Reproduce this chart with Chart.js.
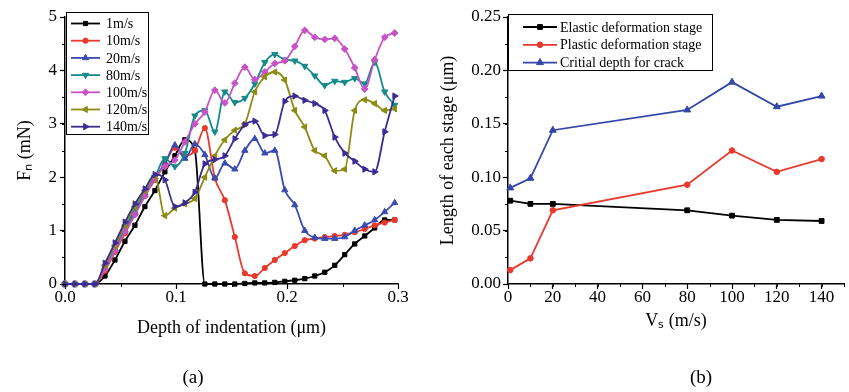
<!DOCTYPE html>
<html><head><meta charset="utf-8">
<script src="https://cdn.jsdelivr.net/npm/chart.js@4/dist/chart.umd.min.js"></script>
<style>
html,body{margin:0;padding:0;background:#fff;}
#wrap{position:relative;width:849px;height:392px;overflow:hidden;background:#fff;}
#cA{position:absolute;left:0;top:0;}
#cB{position:absolute;left:424px;top:0;}
.cap{position:absolute;font-family:'Liberation Serif','Times New Roman',serif;font-size:19px;color:#000;transform:translate(-50%,-50%);white-space:nowrap;}
</style></head><body>
<div id="wrap">
<canvas id="cA" width="424" height="392"></canvas>
<canvas id="cB" width="425" height="392"></canvas>
<div class="cap" style="left:193px;top:377px">(a)</div>
<div class="cap" style="left:701px;top:377px">(b)</div>
</div>
<script>
// ---------- DATA (panel a) ----------
const depth = [0, 0.009, 0.018, 0.027, 0.036, 0.045, 0.054, 0.063, 0.072, 0.081, 0.09, 0.099, 0.108, 0.117, 0.126, 0.135, 0.144, 0.153, 0.162, 0.171, 0.18, 0.189, 0.198, 0.207, 0.216, 0.225, 0.234, 0.243, 0.252, 0.261, 0.27, 0.279, 0.288, 0.297];
const f1   = [0,0,0,0, 0.15,0.45,0.8,1.1,1.45,1.75,2.1,2.4,2.7,2.5, 0,0,0,0,0.01,0.02,0.02,0.03,0.05,0.07,0.1, 0.15,0.22,0.35,0.55,0.75,0.9,1.05,1.2,1.2];
const f10  = [0,0,0,0, 0.25,0.6,0.95,1.3,1.65,1.95,2.25,2.55,2.4,2.5, 2.92,1.98,1.57,0.88,0.2,0.15,0.3,0.45,0.58,0.71,0.82, 0.85,0.88,0.9,0.92,0.97,1.03,1.1,1.15,1.2];
const f20  = [0,0,0,0, 0.3,0.65,1.0,1.35,1.7,2.0,2.25,2.6,2.35,2.62, 2.42,1.98,2.26,2.15,2.5,2.72,2.45,2.5,1.76,1.48,1.0, 0.87,0.85,0.85,0.88,1.0,1.1,1.2,1.35,1.52];
const f80  = [0,0,0,0, 0.32,0.68,1.05,1.4,1.72,2.0,2.35,2.2,2.45,3.15, 3.25,2.85,3.6,3.4,3.48,3.75,4.15,4.3,4.2,4.18,4.08, 3.9,3.72,3.8,3.78,3.85,3.75,4.15,3.6,3.35];
const f100 = [0,0,0,0, 0.28,0.62,0.98,1.3,1.65,1.98,2.2,2.32,2.66,3.0, 3.22,3.63,3.39,3.76,4.06,3.83,3.97,4.13,4.18,4.45,4.75, 4.62,4.58,4.6,4.4,4.05,3.65,4.2,4.62,4.7];
const f120 = [0,0,0,0, 0.35,0.72,1.1,1.45,1.75,2.02,1.28,1.42,1.5,1.6, 2.0,2.4,2.7,2.88,3.0,3.6,3.88,3.97,3.82,3.25,2.94, 2.5,2.4,2.12,2.15,3.25,3.45,3.38,3.25,3.28];
const f140 = [0,0,0,0, 0.39,0.77,1.16,1.5,1.78,2.05,1.95,1.45,1.52,1.72, 2.25,2.33,2.4,2.72,2.98,3.05,2.78,2.8,3.42,3.52,3.44, 3.38,3.25,2.75,2.45,2.3,2.15,2.1,2.85,3.52];
const leftNames = ['1m/s','10m/s','20m/s','80m/s','100m/s','120m/s','140m/s'];
const leftSeries = [f1, f10, f20, f80, f100, f120, f140];
const leftXTicks = [0, 0.1, 0.2, 0.3];

// ---------- DATA (panel b) ----------
const speeds  = [1, 10, 20, 80, 100, 120, 140];
const elastic = [0.078, 0.075, 0.075, 0.069, 0.064, 0.060, 0.059];
const plastic = [0.013, 0.024, 0.069, 0.093, 0.125, 0.105, 0.117];
const crack   = [0.090, 0.099, 0.144, 0.163, 0.189, 0.166, 0.176];
const rightNames = ['Elastic deformation stage','Plastic deformation stage','Critial depth for crack'];

// ---------- STYLES ----------
const FONT = "'Liberation Serif','Times New Roman',serif";
const leftStyles = [
  {c:'#000000', p:'rect',     r:3.0, rot:0},
  {c:'#e8392d', p:'circle',   r:2.6, rot:0},
  {c:'#3a4cb0', p:'triangle', r:3.6, rot:0},
  {c:'#168a8a', p:'triangle', r:3.6, rot:180},
  {c:'#c653c6', p:'rectRot',  r:3.4, rot:0},
  {c:'#8c8c14', p:'triangle', r:3.6, rot:270},
  {c:'#3b2c94', p:'triangle', r:3.6, rot:90}
];
const rightStyles = [
  {c:'#000000', p:'rect',     r:3.4, rot:0},
  {c:'#e8392d', p:'circle',   r:2.8, rot:0},
  {c:'#3446aa', p:'triangle', r:4.0, rot:0}
];

Chart.defaults.font.family = FONT;
Chart.defaults.color = '#000';

function pts(xs, ys){ return xs.map((x,i)=>({x:x, y:ys[i]})); }

function marker(ctx, style, x, y, r, rotDeg){
  let rad = (rotDeg||0)*Math.PI/180;
  ctx.beginPath();
  if (style==='circle'){ ctx.arc(x,y,r,0,Math.PI*2); }
  else if (style==='rect'){ const s=Math.SQRT1_2*r; ctx.rect(x-s,y-s,2*s,2*s); }
  else if (style==='rectRot'){ ctx.moveTo(x,y-r); ctx.lineTo(x+r,y); ctx.lineTo(x,y+r); ctx.lineTo(x-r,y); ctx.closePath(); }
  else if (style==='triangle'){
    for(let k=0;k<3;k++){ const a=rad+k*2*Math.PI/3; const px=x+Math.sin(a)*r, py=y-Math.cos(a)*r; if(k===0)ctx.moveTo(px,py); else ctx.lineTo(px,py);} ctx.closePath();
  }
  ctx.fill(); ctx.stroke();
}

const boxLegend = {
  id:'boxLegend',
  afterDraw(chart, args, o){
    if(!o || !o.rows) return;
    const ctx = chart.ctx; ctx.save();
    ctx.strokeStyle='#000'; ctx.lineWidth=1;
    ctx.strokeRect(o.x+0.5, o.y+0.5, o.w, o.h);
    chart.data.datasets.forEach((ds,i)=>{
      const y = o.y0 + i*o.dy;
      ctx.strokeStyle = ds.borderColor; ctx.fillStyle = ds.borderColor; ctx.lineWidth = ds.borderWidth;
      ctx.beginPath(); ctx.moveTo(o.l1, y); ctx.lineTo(o.l2, y); ctx.stroke();
      ctx.lineWidth = 1;
      marker(ctx, ds.pointStyle, (o.l1+o.l2)/2, y, ds.pointRadius, ds.pointRotation);
      ctx.fillStyle = '#000'; ctx.font = o.fontSize+'px '+FONT; ctx.textAlign='left'; ctx.textBaseline='middle';
      ctx.fillText(ds.label, o.tx, y+1);
    });
    ctx.restore();
  }
};

const minorTicks = {
  id:'minorTicks',
  afterDraw(chart, args, o){
    if(!o || !o.list) return;
    const ctx=chart.ctx; ctx.save(); ctx.strokeStyle='#000'; ctx.lineWidth=1;
    o.list.forEach(cfg=>{
      const sc = chart.scales[cfg.id];
      for(let k=0;;k++){
        const v = cfg.from + k*cfg.step; if (v > cfg.to + 1e-9) break;
        const p = Math.round(sc.getPixelForValue(v))+0.5;
        ctx.beginPath();
        if (sc.isHorizontal()){ ctx.moveTo(p, sc.top); ctx.lineTo(p, sc.top+cfg.len); }
        else { ctx.moveTo(sc.right, p); ctx.lineTo(sc.right-cfg.len, p); }
        ctx.stroke();
      }
    });
    ctx.restore();
  }
};

function axisBase(){
  return {
    grid:{display:true, drawOnChartArea:false, drawTicks:true, tickLength:5, tickColor:'#000', tickWidth:1.2},
    border:{display:true, color:'#000', width:1.5}
  };
}

// ---------- CHART (a) ----------
new Chart(document.getElementById('cA'), {
  type:'line',
  data:{ datasets: leftSeries.map((s,i)=>({
    label:leftNames[i], data:pts(depth, s),
    borderColor:leftStyles[i].c, backgroundColor:leftStyles[i].c,
    pointStyle:leftStyles[i].p, pointRadius:leftStyles[i].r, pointRotation:leftStyles[i].rot,
    pointBackgroundColor:leftStyles[i].c, pointBorderColor:leftStyles[i].c, pointBorderWidth:1,
    borderWidth:1.8, cubicInterpolationMode:'monotone', fill:false, clip:false, order:10-i
  }))},
  options:{
    responsive:false, animation:false, devicePixelRatio:1,
    layout:{padding:{left:0,right:26,top:17,bottom:53}},
    plugins:{legend:{display:false}, tooltip:{enabled:false},
      boxLegend:{rows:true, x:66, y:12, w:82, h:122, y0:23.5, dy:17.2, l1:71, l2:100, tx:106, fontSize:14},
      minorTicks:{list:[{id:'x',from:0,to:0.3,step:0.05,len:3},{id:'y',from:0,to:5,step:0.5,len:3}]}
    },
    scales:{
      x:Object.assign(axisBase(), {type:'linear', min:0, max:0.3,
        afterBuildTicks(s){ s.ticks = leftXTicks.map(v=>({value:v})); },
        afterFit(s){ s.height=55; },
        ticks:{callback:v=>Number(v).toFixed(1), font:{size:17, lineHeight:1}, color:'#000', padding:0, maxRotation:0, autoSkip:false},
        title:{display:true, text:'Depth of indentation (μm)', font:{size:18, lineHeight:1.2}, color:'#000', padding:0}
      }),
      y:Object.assign(axisBase(), {type:'linear', min:0, max:5,
        afterFit(s){ s.width=65; },
        ticks:{stepSize:1, font:{size:17}, color:'#000', padding:3},
        title:{display:true, text:'Fₙ (mN)', font:{size:18, lineHeight:1.2}, color:'#000', padding:{top:14,bottom:0}}
      })
    }
  },
  plugins:[boxLegend, minorTicks]
});

// ---------- CHART (b) ----------
const rightSeries = [elastic, plastic, crack];
new Chart(document.getElementById('cB'), {
  type:'line',
  data:{ datasets: rightSeries.map((s,i)=>({
    label:rightNames[i], data:pts(speeds, s),
    borderColor:rightStyles[i].c, backgroundColor:rightStyles[i].c,
    pointStyle:rightStyles[i].p, pointRadius:rightStyles[i].r, pointRotation:rightStyles[i].rot,
    pointBackgroundColor:rightStyles[i].c, pointBorderColor:rightStyles[i].c, pointBorderWidth:1,
    borderWidth:1.8, tension:0, fill:false, clip:false, order:10-i
  }))},
  options:{
    responsive:false, animation:false, devicePixelRatio:1,
    layout:{padding:{left:0,right:4,top:17,bottom:60}},
    plugins:{legend:{display:false}, tooltip:{enabled:false},
      boxLegend:{rows:true, x:84, y:14, w:204, h:56, y0:27, dy:17.8, l1:99, l2:133, tx:136, fontSize:14},
      minorTicks:{list:[{id:'x',from:0,to:150,step:10,len:3},{id:'y',from:0,to:0.25,step:0.025,len:3}]}
    },
    scales:{
      x:Object.assign(axisBase(), {type:'linear', min:0, max:150,
        afterFit(s){ s.height=48; },
        ticks:{stepSize:20, includeBounds:false, font:{size:17, lineHeight:1}, color:'#000', padding:0, maxRotation:0, autoSkip:false},
        title:{display:true, text:'Vₛ (m/s)', font:{size:18, lineHeight:1.2}, color:'#000', padding:0}
      }),
      y:Object.assign(axisBase(), {type:'linear', min:0, max:0.25,
        afterFit(s){ s.width=84; },
        ticks:{stepSize:0.05, callback:v=>Number(v).toFixed(2), font:{size:17}, color:'#000', padding:2},
        title:{display:true, text:'Length of each stage (μm)', font:{size:18, lineHeight:1.2}, color:'#000', padding:{top:13,bottom:0}}
      })
    }
  },
  plugins:[boxLegend, minorTicks]
});
</script>
</body></html>
